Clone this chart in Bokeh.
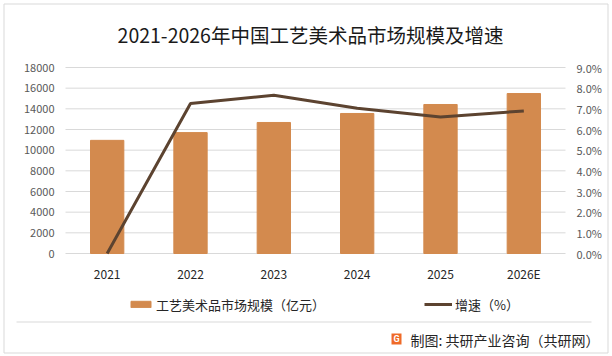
from bokeh.plotting import figure
from bokeh.models import (Range1d, LinearAxis, FixedTicker, NumeralTickFormatter,
                          Legend, LegendItem)
from bokeh.core.properties import value
from bokeh.embed import file_html
from bokeh.resources import INLINE

years = ["2021", "2022", "2023", "2024", "2025", "2026E"]
market = [10950, 11700, 12680, 13550, 14420, 15480]
growth = [0.0, 0.0726, 0.0766, 0.0703, 0.0661, 0.0690]
left_ticks = [0, 2000, 4000, 6000, 8000, 10000, 12000, 14000, 16000, 18000]
right_ticks = [0.0, 0.01, 0.02, 0.03, 0.04, 0.05, 0.06, 0.07, 0.08, 0.09]

title_text = "2021-2026年中国工艺美术品市场规模及增速"
bar_label = "工艺美术品市场规模（亿元）"
line_label = "增速（%）"
source_text = "制图: 共研产业咨询（共研网）"

CJK = "Noto Sans CJK SC"
BAR = "#D38A4E"
LINE = "#5C4330"
GRID = "#D9D9D9"

# canvas geometry (pixels): plot area 65..565 x 67..253
W, H = 612, 356
FL, FR, FT, FB = 65, 565, 67, 253
n = len(years)
xs = [i + 0.5 for i in range(n)]
ppx = (FR - FL) / n                      # pixels per category
ymax, pmax = left_ticks[-1], right_ticks[-1]
ppy = (FB - FT) / ymax
ppp = (FB - FT) / pmax

p = figure(width=W, height=H, output_backend="svg", toolbar_location=None,
           x_range=Range1d(-FL / ppx, n + (W - FR) / ppx),
           y_range=Range1d(-(H - FB) / ppy, ymax + FT / ppy),
           x_axis_location=None, y_axis_location=None, min_border=0)
p.extra_y_ranges = {"pct": Range1d(-(H - FB) / ppp, pmax + FT / ppp),
                    "py": Range1d(H, 0)}
p.extra_x_ranges = {"px": Range1d(0, W)}
p.outline_line_color = None
p.background_fill_color = "white"
p.border_fill_color = "white"
p.grid.visible = False

# horizontal gridlines at the left-axis ticks, across the plot area only
p.segment(x0=[0] * len(left_ticks), x1=[n] * len(left_ticks), y0=left_ticks, y1=left_ticks,
          line_color=GRID, line_width=1)

bars = p.vbar(x=xs, top=market, width=0.4, color=BAR)
ln = p.line(x=xs, y=growth, y_range_name="pct", line_color=LINE, line_width=3)

# axes
def style(ax, size, color, standoff):
    ax.axis_line_color = None
    ax.major_tick_line_color = None
    ax.minor_tick_line_color = None
    ax.major_tick_in = 0
    ax.major_tick_out = 0
    ax.minor_tick_in = 0
    ax.minor_tick_out = 0
    ax.major_label_standoff = standoff
    ax.major_label_text_font = CJK
    ax.major_label_text_font_size = size
    ax.major_label_text_color = color

ya = LinearAxis(ticker=FixedTicker(ticks=left_ticks), fixed_location=0)
style(ya, "11px", "#595959", 11)
p.add_layout(ya, "left")

ra = LinearAxis(y_range_name="pct", ticker=FixedTicker(ticks=right_ticks),
                formatter=NumeralTickFormatter(format="0.0%"), fixed_location=n)
style(ra, "11px", "#595959", 11)
p.add_layout(ra, "right")

xa = LinearAxis(ticker=FixedTicker(ticks=xs), fixed_location=0,
                major_label_overrides={x: y for x, y in zip(xs, years)})
style(xa, "12px", "#262626", 11)
p.add_layout(xa, "below")

# title
p.text(x=[310], y=[34], text=[title_text], x_range_name="px", y_range_name="py",
       text_font=value(CJK), text_font_size="19.5px", text_color="#1a1a1a",
       text_align="center", text_baseline="middle")

# legend
common = dict(padding=0, margin=0, spacing=0, border_line_color=None,
              background_fill_alpha=0, label_text_font=CJK, label_text_color="#262626",
              label_text_font_size="13px", label_height=20, glyph_height=8, label_standoff=3)
leg1 = Legend(items=[LegendItem(label=bar_label, renderers=[bars])],
              location=(128, H - 314), glyph_width=25, **common)
leg2 = Legend(items=[LegendItem(label=line_label, renderers=[ln])],
              location=(424, H - 314), glyph_width=28, **common)
p.add_layout(leg1)
p.add_layout(leg2)

# outer frame and footer rule
p.quad(left=[3.5], right=[607.5], top=[3.5], bottom=[352.5], x_range_name="px",
       y_range_name="py", fill_color=None, line_color=GRID, line_width=1)
p.segment(x0=[16], x1=[591], y0=[321.5], y1=[321.5], x_range_name="px", y_range_name="py",
          line_color=GRID, line_width=1)

# source
p.quad(left=[391], right=[401], top=[333], bottom=[344], x_range_name="px", y_range_name="py",
       fill_color="#EF6A28", line_color=None)
p.text(x=[396], y=[338.5], text=["G"], x_range_name="px", y_range_name="py",
       text_font=value("Roboto"), text_font_style="bold", text_font_size="9px",
       text_color="white", text_align="center", text_baseline="middle")
p.text(x=[410], y=[339], text=[source_text], x_range_name="px", y_range_name="py",
       text_font=value(CJK), text_font_size="14px", text_color="#262626",
       text_align="left", text_baseline="middle")

open("out.html", "w").write(file_html(p, INLINE))
